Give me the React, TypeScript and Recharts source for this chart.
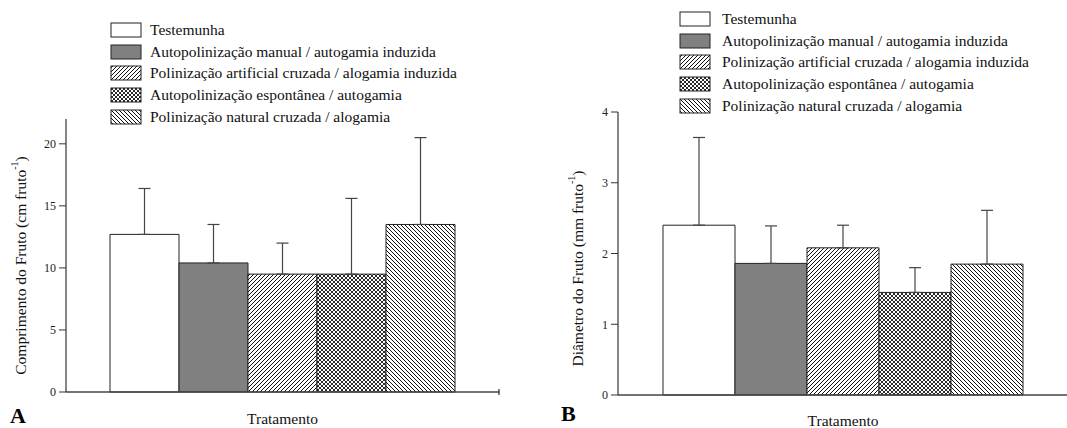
import React from "react";
import { BarChart, Bar, XAxis, YAxis, ErrorBar, Legend } from "recharts";

const treatments = [
  "Testemunha",
  "Autopolinização manual / autogamia induzida",
  "Polinização artificial cruzada / alogamia induzida",
  "Autopolinização espontânea / autogamia",
  "Polinização natural cruzada / alogamia",
];

const lengthMeans = [12.7, 10.4, 9.5, 9.5, 13.5];
const lengthErrors = [3.7, 3.1, 2.5, 6.1, 7.0];
const lengthTicks = [0, 5, 10, 15, 20];

const diameterMeans = [2.4, 1.86, 2.08, 1.45, 1.85];
const diameterErrors = [1.24, 0.53, 0.32, 0.35, 0.76];
const diameterTicks = [0, 1, 2, 3, 4];

const serif = "'Liberation Serif', 'Times New Roman', serif";

const buildRow = (means: number[], errors: number[]) => {
  const row: Record<string, any> = { name: "Tratamento" };
  means.forEach((m, i) => {
    row[`v${i}`] = m;
    row[`e${i}`] = [0, errors[i]];
  });
  return row;
};

const fillsFor = (p: string) => [
  "#ffffff",
  "#808080",
  `url(#${p}-fwd)`,
  `url(#${p}-cross)`,
  `url(#${p}-back)`,
];

const Patterns = ({ p }: { p: string }) => (
  <defs>
    <pattern id={`${p}-fwd`} patternUnits="userSpaceOnUse" width={4} height={4}>
      <rect width={4} height={4} fill="#fff" />
      <path d="M-1,1 l2,-2 M0,4 l4,-4 M3,5 l2,-2" stroke="#111" strokeWidth={1} />
    </pattern>
    <pattern id={`${p}-back`} patternUnits="userSpaceOnUse" width={4} height={4}>
      <rect width={4} height={4} fill="#fff" />
      <path d="M-1,3 l2,2 M0,0 l4,4 M3,-1 l2,2" stroke="#111" strokeWidth={1} />
    </pattern>
    <pattern id={`${p}-cross`} patternUnits="userSpaceOnUse" width={4} height={4}>
      <rect width={4} height={4} fill="#fff" />
      <path
        d="M-1,1 l2,-2 M0,4 l4,-4 M3,5 l2,-2 M-1,3 l2,2 M0,0 l4,4 M3,-1 l2,2"
        stroke="#111"
        strokeWidth={0.9}
      />
    </pattern>
  </defs>
);

const makeLegend = (fills: string[], gap: number) => (props: any) => {
  const payload = [...(props.payload || [])].sort(
    (a: any, b: any) => treatments.indexOf(a.value) - treatments.indexOf(b.value)
  );
  return (
    <div style={{ fontFamily: serif, fontSize: 15.5, color: "#111" }}>
      {payload.map((entry: any) => {
        const i = treatments.indexOf(entry.value);
        return (
          <div key={entry.value} style={{ display: "flex", alignItems: "center", height: 21.6, whiteSpace: "nowrap" }}>
            <svg width={32} height={16} style={{ display: "block" }}>
              <rect x={1} y={1} width={30} height={14} fill={fills[i]} stroke="#222" strokeWidth={1} />
            </svg>
            <span style={{ marginLeft: gap }}>{entry.value}</span>
          </div>
        );
      })}
    </div>
  );
};

const makeYLabel = (text: string, cx: number, dy: number) => (props: any) => {
  const vb = props.viewBox || {};
  const x = (vb.x || 0) + cx;
  const y = (vb.y || 0) + (vb.height || 0) / 2 + dy;
  return (
    <text
      x={x}
      y={y}
      transform={`rotate(-90, ${x}, ${y})`}
      textAnchor="middle"
      dominantBaseline="central"
      fontFamily={serif}
      fontSize={15.5}
      fill="#111"
    >
      <tspan>{text}</tspan>
      <tspan dy={-6} fontSize={10}>-1</tspan>
      <tspan dy={6}>)</tspan>
    </text>
  );
};

const makeXLabel = (baseline: number) => (props: any) => {
  const vb = props.viewBox || {};
  const x0 = vb.x || 0;
  const y0 = vb.y || 0;
  const w = vb.width || 0;
  return (
    <g>
      <text x={x0 + w / 2} y={y0 + baseline} textAnchor="middle" fontFamily={serif} fontSize={15.5} fill="#111">
        Tratamento
      </text>
      <line x1={x0 + w} y1={y0 - 3} x2={x0 + w} y2={y0 + 3} stroke="#222" strokeWidth={1.2} />
    </g>
  );
};

type PanelProps = {
  p: string;
  width: number;
  margin: { top: number; right: number; left: number; bottom: number };
  yWidth: number;
  xHeight: number;
  domain: [number, number];
  ticks: number[];
  means: number[];
  errors: number[];
  barSize: number;
  yText: string;
  yCx: number;
  yDy: number;
  xBaseline: number;
  legendPos: { left: number; top: number };
  legendGap: number;
};

const Panel = (props: PanelProps) => {
  const fills = fillsFor(props.p);
  const data = [buildRow(props.means, props.errors)];
  return (
    <BarChart width={props.width} height={428} data={data} margin={props.margin} barGap={0} barSize={props.barSize}>
      <Patterns p={props.p} />
      <XAxis
        dataKey="name"
        height={props.xHeight}
        tick={false}
        tickLine={false}
        axisLine={{ stroke: "#444", strokeWidth: 1.5 }}
        label={{ content: makeXLabel(props.xBaseline) }}
      />
      <YAxis
        width={props.yWidth}
        domain={props.domain}
        ticks={props.ticks}
        interval={0}
        tickSize={7}
        tickMargin={3}
        axisLine={{ stroke: "#333", strokeWidth: 1.2 }}
        tickLine={{ stroke: "#333" }}
        tick={{ fontSize: 12, fill: "#222", fontFamily: serif }}
        label={{ content: makeYLabel(props.yText, props.yCx, props.yDy) }}
      />
      <Legend
        layout="horizontal"
        verticalAlign="middle"
        align="center"
        itemSorter={null as any}
        content={makeLegend(fills, props.legendGap)}
        wrapperStyle={{ left: props.legendPos.left, top: props.legendPos.top, width: 420 }}
      />
      {treatments.map((t, i) => (
        <Bar
          key={t}
          dataKey={`v${i}`}
          name={t}
          fill={fills[i]}
          stroke="#222"
          strokeWidth={1}
          isAnimationActive={false}
        >
          <ErrorBar dataKey={`e${i}`} direction="y" width={6} stroke="#444" strokeWidth={1.2} />
        </Bar>
      ))}
    </BarChart>
  );
};

export default function App() {
  return (
    <div
      style={{
        position: "absolute",
        left: 0,
        top: 0,
        width: 1067,
        height: 428,
        overflow: "hidden",
        background: "#fff",
        fontFamily: serif,
      }}
    >
      <div style={{ position: "absolute", left: 0, top: 0 }}>
        <Panel
          p="a"
          width={540}
          margin={{ top: 119, right: 41, left: 0, bottom: 0 }}
          yWidth={66}
          xHeight={36}
          domain={[0, 22]}
          ticks={lengthTicks}
          means={lengthMeans}
          errors={lengthErrors}
          barSize={69}
          yText="Comprimento do Fruto (cm fruto"
          yCx={20}
          yDy={10}
          xBaseline={32}
          legendPos={{ left: 110, top: 19.5 }}
          legendGap={8}
        />
      </div>
      <div style={{ position: "absolute", left: 540, top: 0 }}>
        <Panel
          p="b"
          width={528}
          margin={{ top: 112, right: 0, left: 0, bottom: 0 }}
          yWidth={78}
          xHeight={33}
          domain={[0, 4]}
          ticks={diameterTicks}
          means={diameterMeans}
          errors={diameterErrors}
          barSize={72}
          yText="Diâmetro do Fruto (mm fruto"
          yCx={37}
          yDy={15}
          xBaseline={31}
          legendPos={{ left: 139, top: 8.5 }}
          legendGap={11}
        />
      </div>
      <div style={{ position: "absolute", left: 10, top: 405, fontSize: 22, lineHeight: "22px", fontWeight: "bold" }}>A</div>
      <div style={{ position: "absolute", left: 561, top: 403, fontSize: 22, lineHeight: "22px", fontWeight: "bold" }}>B</div>
    </div>
  );
}
